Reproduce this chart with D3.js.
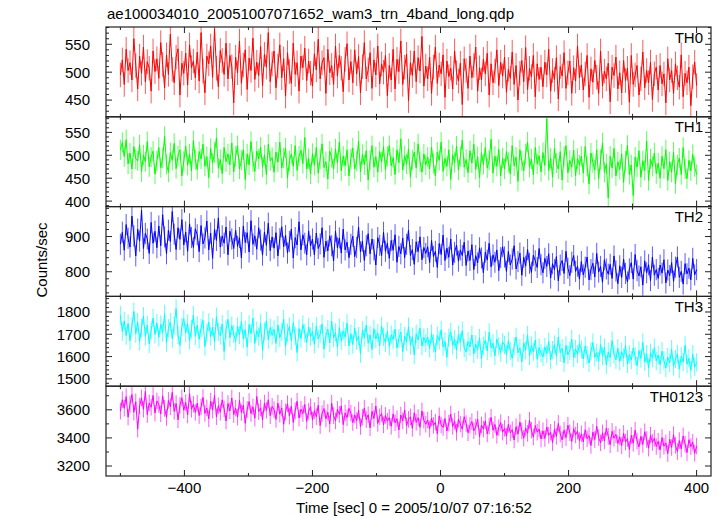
<!DOCTYPE html>
<html><head><meta charset="utf-8">
<script src="https://cdn.jsdelivr.net/npm/d3@7"></script>
<style>body{margin:0;background:#fff}svg{display:block}text{font-family:"Liberation Sans",Arial,sans-serif;fill:#000}</style>
</head><body><svg id="c" width="723" height="516"></svg>
<script>
const title = "ae100034010_20051007071652_wam3_trn_4band_long.qdp";
const xLabel = "Time [sec] 0 = 2005/10/07 07:16:52";
const yLabel = "Counts/sec";
const binStart = -500, binWidth = 3;
const xTicks = [-400, -200, 0, 200, 400];
const seriesNames = ["TH0", "TH1", "TH2", "TH3", "TH0123"];
const seriesColors = ["#ff0000", "#00ff00", "#0000ff", "#00ffff", "#ff00ff"];
const seriesErr = [22, 22, 30, 41, 59];
const yDomains = [[420, 581], [388, 584], [730, 985], [1467, 1870], [3129, 3768]];
const yMajor = [[450, 500, 550], [400, 450, 500, 550], [800, 900], [1500, 1600, 1700, 1800], [3200, 3400, 3600]];
const yMinorStep = [10, 10, 20, 20, 100];

const th0 = [495,522,478,541,503,517,486,560,512,470,529,498,545,483,519,507,466,538,501,524,
489,553,514,472,531,496,568,505,481,527,542,459,516,498,534,477,549,508,520,490,
536,484,571,502,463,529,515,547,491,578,507,474,539,521,496,552,488,530,510,445,
527,499,556,480,513,540,469,525,503,561,487,518,494,546,476,532,509,571,483,515,
538,472,511,549,490,524,457,535,501,480,552,496,517,466,529,508,543,485,520,498,
475,533,504,559,488,517,526,462,541,499,512,478,547,493,530,507,465,523,551,486,
519,481,540,497,528,463,510,553,488,504,535,471,522,495,547,479,515,500,530,458,
512,486,541,470,523,501,556,478,509,532,449,517,494,538,483,526,502,564,475,511,
488,527,462,509,545,480,513,497,531,455,520,492,507,470,538,499,484,516,442,524,
503,471,529,490,512,545,466,508,486,523,497,534,459,515,481,502,540,476,518,493,
527,464,505,489,536,478,512,450,498,521,483,544,469,507,492,530,456,515,487,509,
474,518,495,541,466,503,487,526,452,510,493,535,471,499,520,462,508,484,547,490,
513,468,497,530,455,506,482,521,491,462,538,475,502,488,516,447,509,494,527,470,
499,463,521,485,507,446,530,478,495,512,459,488,536,472,503,481,518,451,497,509,
468,512,479,497,445,524,486,503,462,515,490,473,531,456,498,481,509,440,492,518,476];

const th1 = [512,528,497,534,481,505,470,519,492,488,523,464,501,486,530,475,496,509,459,488,
517,473,494,541,480,463,506,489,526,471,499,512,455,487,520,478,503,466,532,490,
469,508,492,524,476,497,451,515,483,506,538,472,491,460,517,486,503,479,527,464,
498,521,470,489,512,447,503,479,530,486,465,509,492,518,474,501,458,524,488,495,
463,507,485,529,472,494,516,450,488,503,476,521,467,498,511,482,539,470,493,459,
504,478,517,461,492,525,473,486,448,509,495,470,514,483,529,466,498,477,512,455,
493,516,470,487,531,464,502,479,510,446,489,521,474,497,463,508,485,519,469,498,
521,477,495,458,512,484,536,468,499,481,514,452,490,507,472,525,486,463,503,479,
496,470,518,482,455,507,489,529,465,493,476,512,447,501,484,520,468,497,533,474,
491,462,510,483,524,469,497,451,506,480,517,472,489,535,461,498,476,513,455,494,
470,508,485,459,521,477,496,443,512,488,466,503,529,474,492,458,517,481,499,464,
506,478,580,467,494,452,515,483,470,508,446,497,521,462,489,474,511,455,493,479,
498,461,519,476,437,505,484,468,512,449,490,527,463,481,407,498,472,515,455,486,
469,503,441,487,522,458,479,412,496,474,510,452,488,467,531,445,492,476,505,460,
483,450,498,471,512,445,486,463,507,438,479,494,458,517,470,449,489,466,502,475,458];

const th2 = [878,912,861,934,895,870,958,902,845,921,887,975,866,909,893,852,940,881,915,868,
930,874,962,899,851,918,886,971,907,863,925,892,948,876,913,858,936,897,869,922,
905,857,931,879,896,944,862,910,838,921,889,953,870,902,881,927,848,915,893,866,
918,872,897,839,930,883,911,856,945,878,902,864,925,890,847,913,875,938,860,899,
867,911,845,894,928,871,903,853,886,921,839,897,876,942,862,905,881,848,916,873,
893,848,910,866,879,925,841,887,859,902,874,831,915,868,896,853,921,862,884,840,
878,901,843,869,927,856,887,832,874,908,851,893,862,819,897,875,846,912,858,881,
838,889,861,905,827,872,851,896,840,878,918,846,863,821,885,857,899,834,869,852,
871,826,889,843,858,812,880,849,904,832,867,841,893,819,855,876,830,862,846,884,
818,859,832,877,806,846,825,868,839,797,856,833,881,814,848,827,862,803,840,871,
842,801,858,819,836,874,808,829,853,790,841,816,863,824,798,847,831,812,866,820,
797,838,815,851,782,823,806,843,774,819,832,795,858,810,789,827,846,801,816,779,
829,791,813,842,777,806,824,785,852,799,815,770,834,808,793,821,781,845,802,766,
817,784,836,795,771,808,826,779,849,803,788,814,762,831,797,820,775,842,790,806,
781,819,796,834,768,805,789,826,773,813,842,784,801,765,823,794,810,777,838,791,806];

const th3 = [1785,1712,1760,1694,1748,1671,1736,1802,1703,1755,1668,1729,1781,1690,1742,1657,1718,1773,1699,1751,
1686,1744,1708,1792,1663,1727,1755,1681,1739,1816,1697,1650,1733,1770,1705,1748,1672,1724,1786,1691,
1741,1677,1729,1763,1645,1708,1754,1690,1732,1668,1779,1711,1694,1746,1623,1721,1767,1684,1739,1702,
1668,1735,1697,1758,1680,1721,1642,1744,1703,1773,1659,1716,1689,1749,1628,1712,1761,1675,1730,1695,
1722,1659,1741,1684,1711,1768,1646,1707,1735,1670,1752,1693,1618,1726,1681,1744,1705,1663,1733,1689,
1712,1655,1737,1679,1701,1746,1634,1694,1723,1661,1759,1683,1708,1642,1730,1671,1715,1687,1750,1648,
1703,1654,1729,1671,1692,1613,1718,1685,1741,1660,1697,1632,1725,1679,1706,1648,1737,1689,1662,1714,
1645,1698,1677,1723,1638,1683,1710,1621,1692,1666,1734,1651,1689,1607,1702,1675,1728,1647,1686,1661,
1688,1636,1703,1659,1621,1694,1672,1720,1643,1668,1597,1685,1711,1650,1677,1629,1699,1664,1716,1638,
1621,1668,1643,1697,1612,1656,1631,1684,1589,1649,1673,1625,1709,1638,1660,1603,1679,1647,1618,1665,
1652,1609,1671,1624,1593,1645,1688,1617,1639,1576,1661,1628,1697,1603,1650,1622,1674,1588,1641,1615,
1598,1643,1612,1667,1585,1629,1654,1601,1688,1617,1637,1572,1650,1608,1625,1679,1594,1634,1611,1658,
1632,1589,1648,1606,1571,1625,1663,1597,1617,1580,1654,1602,1640,1563,1621,1595,1672,1609,1586,1637,
1578,1622,1595,1651,1566,1609,1584,1638,1601,1559,1627,1591,1664,1576,1612,1548,1617,1593,1640,1580,
1607,1563,1624,1582,1549,1598,1571,1633,1556,1589,1612,1544,1601,1575,1650,1566,1592,1538,1610,1553,1574];

const th0123 = [3590,3672,3611,3694,3548,3640,3709,3583,3657,3462,3628,3685,3604,3731,3566,3649,3618,3702,3577,3663,
3638,3571,3699,3610,3546,3667,3622,3724,3589,3645,3528,3631,3686,3597,3652,3563,3715,3604,3640,3581,
3647,3559,3621,3688,3574,3613,3536,3662,3598,3702,3551,3629,3583,3671,3607,3520,3645,3592,3684,3566,
3612,3548,3667,3581,3633,3504,3602,3659,3573,3621,3540,3695,3587,3614,3529,3648,3596,3671,3558,3625,
3601,3532,3648,3569,3612,3497,3586,3643,3555,3627,3510,3592,3661,3541,3604,3573,3638,3518,3589,3622,
3527,3594,3551,3632,3488,3573,3609,3536,3582,3498,3647,3559,3521,3603,3567,3628,3495,3578,3544,3611,
3576,3509,3563,3522,3598,3481,3547,3612,3530,3565,3472,3589,3538,3627,3503,3551,3574,3493,3560,3519,
3545,3482,3571,3508,3537,3456,3563,3521,3599,3487,3532,3550,3468,3579,3511,3544,3475,3592,3526,3497,
3528,3463,3541,3489,3512,3430,3557,3492,3474,3538,3449,3506,3570,3481,3519,3440,3533,3498,3462,3551,
3502,3437,3489,3516,3451,3478,3534,3409,3492,3463,3521,3428,3484,3547,3455,3496,3418,3473,3509,3441,
3468,3412,3497,3436,3459,3385,3480,3427,3513,3449,3398,3471,3432,3525,3455,3406,3488,3441,3464,3392,
3451,3396,3478,3419,3440,3367,3462,3411,3503,3428,3386,3455,3402,3491,3437,3374,3466,3421,3448,3381,
3429,3372,3458,3394,3417,3346,3441,3388,3483,3402,3365,3436,3379,3470,3411,3351,3447,3398,3425,3360,
3407,3345,3432,3371,3396,3318,3419,3362,3455,3378,3336,3411,3353,3444,3389,3327,3420,3368,3398,3339,
3376,3314,3402,3341,3365,3289,3390,3332,3423,3347,3303,3381,3322,3414,3356,3295,3387,3338,3369,3291,3342];

const seriesValues = [th0, th1, th2, th3, th0123];

const svg = d3.select("#c");
const L = 106, R = 711, T = 27, B = 476;
const nP = 5, pH = (B - T) / nP;
const x = d3.scaleLinear().domain([-522.5, 422.5]).range([L, R]);
const xMinor = d3.range(-500, 401, 100).filter(v => !xTicks.includes(v));
const axisColor = "#222";

svg.append("defs").selectAll("clipPath").data(seriesNames).join("clipPath")
  .attr("id", (d, i) => "clip" + i)
  .append("rect").attr("x", L).attr("width", R - L)
  .attr("y", (d, i) => T + i * pH).attr("height", pH);

seriesNames.forEach((name, i) => {
  const top = T + i * pH, bot = top + pH;
  const y = d3.scaleLinear().domain(yDomains[i]).range([bot, top]);
  const vals = seriesValues[i];
  const err = seriesErr[i];
  const tx = j => x(binStart + j * binWidth);
  const pg = svg.append("g").attr("clip-path", `url(#clip${i})`);
  pg.selectAll("line.err").data(vals).join("line").attr("class", "err")
    .attr("x1", (d, j) => tx(j)).attr("x2", (d, j) => tx(j))
    .attr("y1", d => y(d - err)).attr("y2", d => y(d + err))
    .attr("stroke", seriesColors[i]).attr("stroke-opacity", 0.65).attr("stroke-width", 1);
  const line = d3.line().x((d, j) => tx(j)).y(d => y(d));
  pg.append("path").datum(vals).attr("d", line)
    .attr("fill", "none").attr("stroke", seriesColors[i]).attr("stroke-width", 1);

  const g = svg.append("g");
  xTicks.forEach(v => {
    g.append("line").attr("x1", x(v)).attr("x2", x(v)).attr("y1", top).attr("y2", top + 6).attr("stroke", axisColor);
    g.append("line").attr("x1", x(v)).attr("x2", x(v)).attr("y1", bot).attr("y2", bot - 6).attr("stroke", axisColor);
  });
  xMinor.forEach(v => {
    g.append("line").attr("x1", x(v)).attr("x2", x(v)).attr("y1", top).attr("y2", top + 3).attr("stroke", axisColor);
    g.append("line").attr("x1", x(v)).attr("x2", x(v)).attr("y1", bot).attr("y2", bot - 3).attr("stroke", axisColor);
  });
  const [y0, y1] = yDomains[i];
  const st = yMinorStep[i];
  d3.range(Math.ceil(y0 / st) * st, y1 + 0.01, st).forEach(v => {
    const maj = yMajor[i].includes(v);
    const len = maj ? 6 : 3;
    g.append("line").attr("x1", L).attr("x2", L + len).attr("y1", y(v)).attr("y2", y(v)).attr("stroke", axisColor);
    g.append("line").attr("x1", R).attr("x2", R - len).attr("y1", y(v)).attr("y2", y(v)).attr("stroke", axisColor);
  });
  yMajor[i].forEach(v => {
    g.append("text").attr("x", L - 16).attr("y", y(v)).attr("dy", "0.36em")
      .attr("text-anchor", "end").attr("font-size", 15).text(v);
  });
  g.append("text").attr("x", 703).attr("y", top + 15.5).attr("text-anchor", "end")
    .attr("font-size", 15).text(name);
  g.append("rect").attr("x", L).attr("y", top).attr("width", R - L).attr("height", pH)
    .attr("fill", "none").attr("stroke", axisColor).attr("stroke-width", 1.2);
});

xTicks.forEach(v => {
  svg.append("text").attr("x", x(v)).attr("y", 492.5).attr("text-anchor", "middle")
    .attr("font-size", 15).text(v < 0 ? "\u2212" + Math.abs(v) : v);
});
svg.append("text").attr("x", 414).attr("y", 512.5).attr("text-anchor", "middle").attr("font-size", 15).text(xLabel);
svg.append("text").attr("transform", "translate(47,260) rotate(-90)").attr("text-anchor", "middle").attr("font-size", 15).text(yLabel);
svg.append("text").attr("x", 107).attr("y", 19).attr("font-size", 15).text(title);
</script></body></html>
